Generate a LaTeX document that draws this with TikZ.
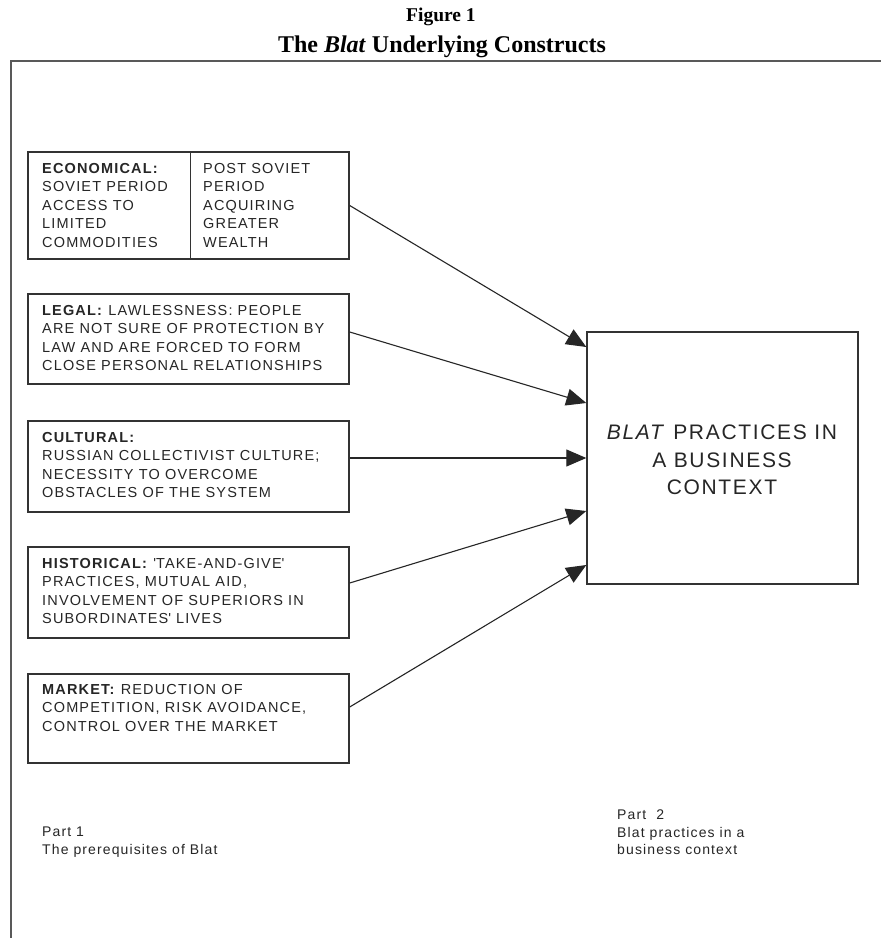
\documentclass[tikz,border=0pt]{standalone}
\usepackage{fontspec}
\setmainfont{Liberation Sans}
\newfontfamily\boxfont[LetterSpace=8]{Liberation Sans}
\newfontfamily\titlefont{Liberation Serif}
\usetikzlibrary{arrows.meta}
\begin{document}
\begin{tikzpicture}[x=1pt,y=-1pt,
  frame/.style={draw=black!65,line width=1.8pt},
  boxstyle/.style={draw=black!80,line width=1.4pt,inner sep=0pt},
  txt/.style={anchor=north west,inner sep=0pt,align=left,text=black!85,font=\boxfont\fontsize{14.5}{18.5}\selectfont},
  bigtxt/.style={inner sep=0pt,align=center,text=black!85,font=\boxfont\fontsize{21}{27.5}\selectfont},
  parttxt/.style={anchor=north west,inner sep=0pt,align=left,text=black!85,font=\boxfont\fontsize{14}{17.5}\selectfont},
  titletxt/.style={inner sep=0pt,font=\titlefont\bfseries},
  conn/.style={draw=black!85,line width=1.1pt,-{Triangle[length=20pt,width=17pt]}}]
\fill[white] (0,0) rectangle (881,938);
\useasboundingbox (0,0) rectangle (881,938);

% title
\node[titletxt,font=\titlefont\bfseries\fontsize{19.5}{19.5}\selectfont] (fig) at (441,17) {Figure 1};
\node[titletxt,font=\titlefont\bfseries\fontsize{24}{24}\selectfont] (ttl) at (442,47) {The \textit{Blat} Underlying Constructs};

% frame
\draw[frame] (881,61) -- (11,61) -- (11,938);

% boxes
\node[boxstyle,minimum width=321pt,minimum height=107pt] (b1) at (188.5,205.5) {};
\draw[draw=black!80,line width=1.4pt] ([xshift=163pt]b1.north west) -- ([xshift=163pt]b1.south west);
\node[boxstyle,minimum width=321pt,minimum height=90pt] (b2) at (188.5,339) {};
\node[boxstyle,minimum width=321pt,minimum height=91pt] (b3) at (188.5,466.5) {};
\node[boxstyle,minimum width=321pt,minimum height=91pt] (b4) at (188.5,592.5) {};
\node[boxstyle,minimum width=321pt,minimum height=89pt] (b5) at (188.5,718.5) {};
\node[boxstyle,minimum width=271pt,minimum height=252pt] (big) at (722.5,458) {};

% box texts
\node[txt] (t1a) at (42,163) {\textbf{ECONOMICAL:}\\SOVIET PERIOD\\ACCESS TO\\LIMITED\\COMMODITIES};
\node[txt] (t1b) at (203,163) {POST SOVIET\\PERIOD\\ACQUIRING\\GREATER\\WEALTH};
\node[txt] (t2) at (42,305) {\textbf{LEGAL:} LAWLESSNESS: PEOPLE\\ARE NOT SURE OF PROTECTION BY\\LAW AND ARE FORCED TO FORM\\CLOSE PERSONAL RELATIONSHIPS};
\node[txt] (t3) at (42,432) {\textbf{CULTURAL:}\\RUSSIAN COLLECTIVIST CULTURE;\\NECESSITY TO OVERCOME\\OBSTACLES OF THE SYSTEM};
\node[txt] (t4) at (42,558) {\textbf{HISTORICAL:} \textquotesingle TAKE-AND-GIVE\textquotesingle\\PRACTICES, MUTUAL AID,\\INVOLVEMENT OF SUPERIORS IN\\SUBORDINATES\textquotesingle{} LIVES};
\node[txt] (t5) at (42,684) {\textbf{MARKET:} REDUCTION OF\\COMPETITION, RISK AVOIDANCE,\\CONTROL OVER THE MARKET};

\node[bigtxt] (bt) at (722,460) {\textit{BLAT} PRACTICES IN\\A BUSINESS\\CONTEXT};

% part labels
\node[parttxt] (p1) at (42,827) {Part 1\\The prerequisites of Blat};
\node[parttxt] (p2) at (617,810) {Part\ \ 2\\Blat practices in a\\business context};

% connectors
\draw[conn] (b1.east) -- ([yshift=111pt]big.west);
\draw[conn] ([yshift=7pt]b2.east) -- ([yshift=55pt]big.west);
\draw[conn] ([yshift=8.5pt]b3.east) -- (big.west);
\draw[conn] ([yshift=9.5pt]b4.east) -- ([yshift=-53pt]big.west);
\draw[conn] ([yshift=11.5pt]b5.east) -- ([yshift=-107pt]big.west);
\end{tikzpicture}
\end{document}
